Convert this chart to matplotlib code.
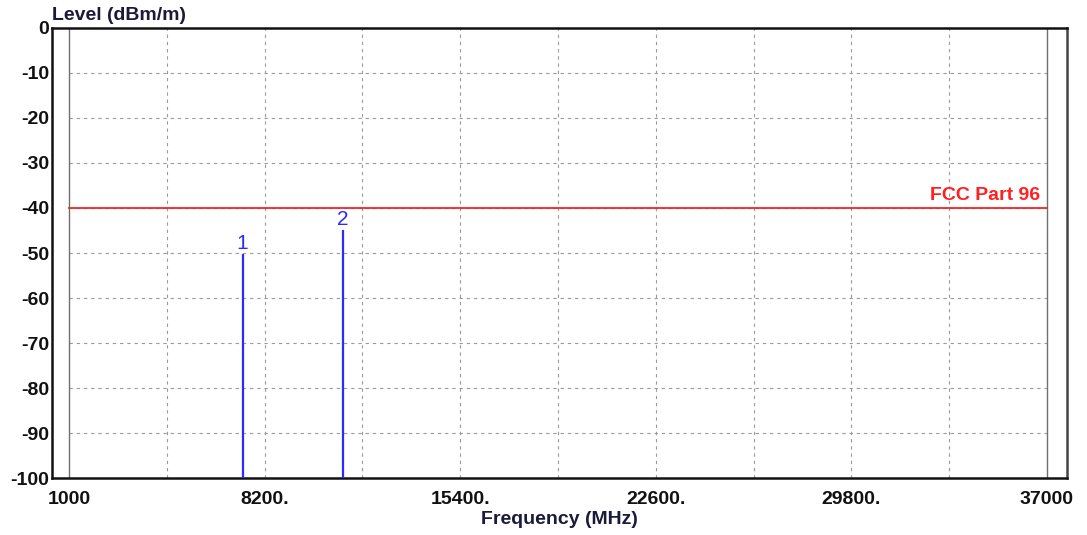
import numpy as np
import matplotlib.pyplot as plt

plt.rcParams['font.family'] = ['Liberation Sans', 'DejaVu Sans']

# spectrum peaks
marker_ids = ['1', '2']
marker_freq = [7390, 11090]      # MHz
marker_level = [-50.3, -45.0]    # dBm/m

limit_level = -40
limit_name = 'FCC Part 96'

x_ticks = [1000, 8200, 15400, 22600, 29800, 37000]
x_tick_labels = ['1000', '8200.', '15400.', '22600.', '29800.', '37000']
y_ticks = [0, -10, -20, -30, -40, -50, -60, -70, -80, -90, -100]

f_min, f_max = 1000, 37000

fig = plt.figure(figsize=(10.87, 5.35), dpi=100)
ax = fig.add_axes([0.0478, 0.1065, 0.9338, 0.8412])

ax.set_xlim(374, 37736)
ax.set_ylim(-100, 0)

# dashed grid inside the data area
for gx in np.arange(f_min + 3600, f_max, 3600):
    ax.plot([gx, gx], [-100, 0], color='#9a9a9a', lw=0.8, ls=(0, (3, 3.5)), zorder=1)
for gy in range(-90, 0, 10):
    ax.plot([f_min, f_max], [gy, gy], color='#9a9a9a', lw=0.8, ls=(0, (3, 3.5)), zorder=1)

# inner frame lines
ax.axvline(f_min, color='#707070', lw=1.0, zorder=2)
ax.axvline(f_max, color='#707070', lw=1.0, zorder=2)

# limit line
ax.plot([f_min, f_max], [limit_level, limit_level], color='#ff2020', lw=1.3, zorder=3)
ax.text(f_max - 250, limit_level + 0.8, limit_name, color='#ff2020', fontsize=14,
        fontweight='bold', ha='right', va='bottom')

# markers
ax.vlines(marker_freq, -100, marker_level, color='#2b2bff', lw=1.6, zorder=4)
for mid, fx, lv in zip(marker_ids, marker_freq, marker_level):
    ax.text(fx, lv + 0.3, mid, color='#2b2bff', fontsize=15, ha='center', va='bottom')

ax.set_xticks(x_ticks)
ax.set_xticklabels(x_tick_labels)
ax.set_yticks(y_ticks)
ax.set_yticklabels([str(v) for v in y_ticks])
ax.tick_params(length=0, labelsize=14, colors='#111111')
ax.tick_params(axis='x', pad=9)
ax.tick_params(axis='y', pad=2)
for lab in ax.get_xticklabels() + ax.get_yticklabels():
    lab.set_fontweight('bold')

for s in ['left', 'bottom', 'top']:
    ax.spines[s].set_linewidth(1.8)
    ax.spines[s].set_color('#111111')
ax.spines['right'].set_linewidth(1.8)
ax.spines['right'].set_color('#444444')

fig.text(52 / 1087, 1 - 15 / 535, 'Level (dBm/m)', fontsize=14, fontweight='bold',
         color='#1a1a3a', ha='left', va='center')
fig.text(559 / 1087, 1 - 520 / 535, 'Frequency (MHz)', fontsize=14, fontweight='bold',
         color='#1a1a3a', ha='center', va='center')

fig.savefig('out.png', dpi=100)
